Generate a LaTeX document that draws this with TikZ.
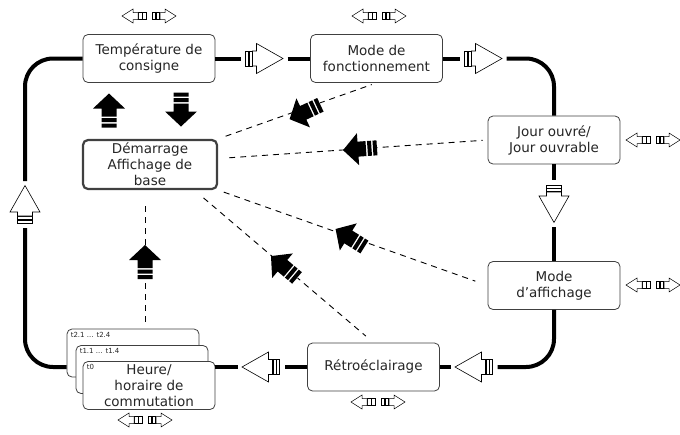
\documentclass[tikz,border=0pt]{standalone}
\usepackage{fontspec}
\setmainfont{DejaVu Sans}
\usetikzlibrary{positioning}

\begin{document}
\begin{tikzpicture}[x=1pt, y=-1pt,
    box/.style={draw=black!75, line width=0.8pt, rounded corners=5pt, fill=white,
      minimum width=132pt, minimum height=48pt, inner sep=0pt, align=center,
      text=black!85, font=\fontsize{13.5}{16}\selectfont},
    tag/.style={anchor=north west, inner sep=1pt, text=black!85, font=\fontsize{7}{8}\selectfont},
    ring/.style={line width=4pt, rounded corners=28pt},
    link/.style={line width=0.9pt, dash pattern=on 6pt off 5pt},
    flow/.pic={
      \draw[line width=0.6pt, fill=white] (-19,-7.5) rectangle (-16,7.5) (-15.5,-7.5) rectangle (-12.5,7.5);
      \draw[line width=0.6pt, fill=white] (-12,-7.5) -- (-8,-7.5) -- (-8,-15) -- (18.5,0) -- (-8,15) -- (-8,7.5) -- (-12,7.5) -- cycle;
      \coordinate (-in) at (-24,0);
      \coordinate (-out) at (23,0);
    },
    keyarrow/.pic={
      \draw[line width=0.5pt, fill=white] (0,-3.5) rectangle (3.5,3.5) (4,-3.5) rectangle (7.5,3.5);
      \draw[line width=0.5pt, fill=white] (8,-3.5) -- (13,-3.5) -- (13,-7) -- (24,0) -- (13,7) -- (13,3.5) -- (8,3.5) -- cycle;
    },
    keys/.pic={
      \pic at (3,0) {keyarrow};
      \pic[xscale=-1] at (-3,0) {keyarrow};
    },
    push/.pic={
      \fill[white] (-17.5,-8) rectangle (2,8);
      \fill (17,0) -- (2,-16) -- (2,-7.5) -- (-6,-7.5) -- (-6,7.5) -- (2,7.5) -- (2,16) -- cycle;
      \fill (-7.5,-7.5) rectangle (-11.5,7.5) (-13,-7.5) rectangle (-17,7.5);
    }]
  \useasboundingbox (0,0) rectangle (680,434);

  % boxes of the menu ring
  \node[box] (temp) at (149,58.5) {Température de\\consigne};
  \node[box] (mode) at (376.5,58.5) {Mode de\\fonctionnement};
  \node[box] (jour) at (554,140) {Jour ouvré/\\Jour ouvrable};
  \node[box] (affich) at (554,285.5) {Mode\\d'affichage};
  \node[box] (retro) at (373.5,367) {Rétroéclairage};
  \node[box] (hb) at (133,353) {};
  \node[tag] (t2) at ([shift={(3,2)}]hb.north west) {t2.1 ... t2.4};
  \node[box] (hm) at (142,369.5) {};
  \node[tag] (t1) at ([shift={(3,2)}]hm.north west) {t1.1 ... t1.4};
  \node[box] (heure) at (149,385.5) {Heure/\\horaire de\\commutation};
  \node[tag] (t0) at ([shift={(3,2)}]heure.north west) {t0};
  \node[box, line width=2.2pt, minimum width=134pt, minimum height=49pt] (start) at (150,164.5) {Démarrage\\Affichage de\\base};

  % ring
  \pic (f1) at (264.5,58.5) {flow};
  \pic (f2) at (483.5,58.5) {flow};
  \pic[rotate=-90] (f3) at (554,204) {flow};
  \pic[rotate=180] (f4) at (473.5,367) {flow};
  \pic[rotate=180] (f5) at (260.5,367) {flow};
  \pic[rotate=90] (f6) at (25,204) {flow};
  \draw[ring] (temp.east) -- (f1-in);
  \draw[ring] (f1-out) -- (mode.west);
  \draw[ring] (mode.east) -- (f2-in);
  \draw[ring] (f2-out) -| (jour.north);
  \draw[ring] (jour.south) -- (f3-in);
  \draw[ring] (f3-out) -- (affich.north);
  \draw[ring] (affich.south) |- (f4-in);
  \draw[ring] (f4-out) -- (retro.east);
  \draw[ring] (retro.west) -- (f5-in);
  \draw[ring] (f5-out) -- (f5-out -| heure.east);
  \draw[ring] (f5-out -| hb.west) -| (f6-in);
  \draw[ring] (f6-out) |- (temp.west);

  % back to the start display
  \draw[link, shorten <=8pt, shorten >=5pt] (start.north east) -- (mode.south);
  \draw[link, shorten <=11pt, shorten >=5pt] (start.5) -- (jour.west);
  \draw[link, shorten <=6pt, shorten >=13pt] (start.south east) -- (affich.west);
  \draw[link, shorten <=12pt, shorten >=10pt] (start.-30) -- (retro.north);
  \draw[link, shorten <=16pt, shorten >=7pt] ([xshift=-5pt]start.south) -- ([xshift=-5pt]start.south |- hb.north);
  \pic[rotate=90] (pt) at (109,110.5) {push};
  \pic[rotate=-90] (ps) at (181,109.5) {push};
  \pic[rotate=205] (pm) at (305,112) {push};
  \pic[rotate=184] (pj) at (360,149) {push};
  \pic[rotate=148] (pa) at (350,238) {push};
  \pic[rotate=140] (pr) at (284,267) {push};
  \pic[rotate=90] (ph) at (145,262) {push};

  % buttons
  \pic (kt) at (149,16) {keys};
  \pic (km) at (379,16) {keys};
  \pic (kj) at (653,140) {keys};
  \pic (ka) at (653,285) {keys};
  \pic (kr) at (378,402) {keys};
  \pic (kh) at (145,420) {keys};
\end{tikzpicture}
\end{document}
